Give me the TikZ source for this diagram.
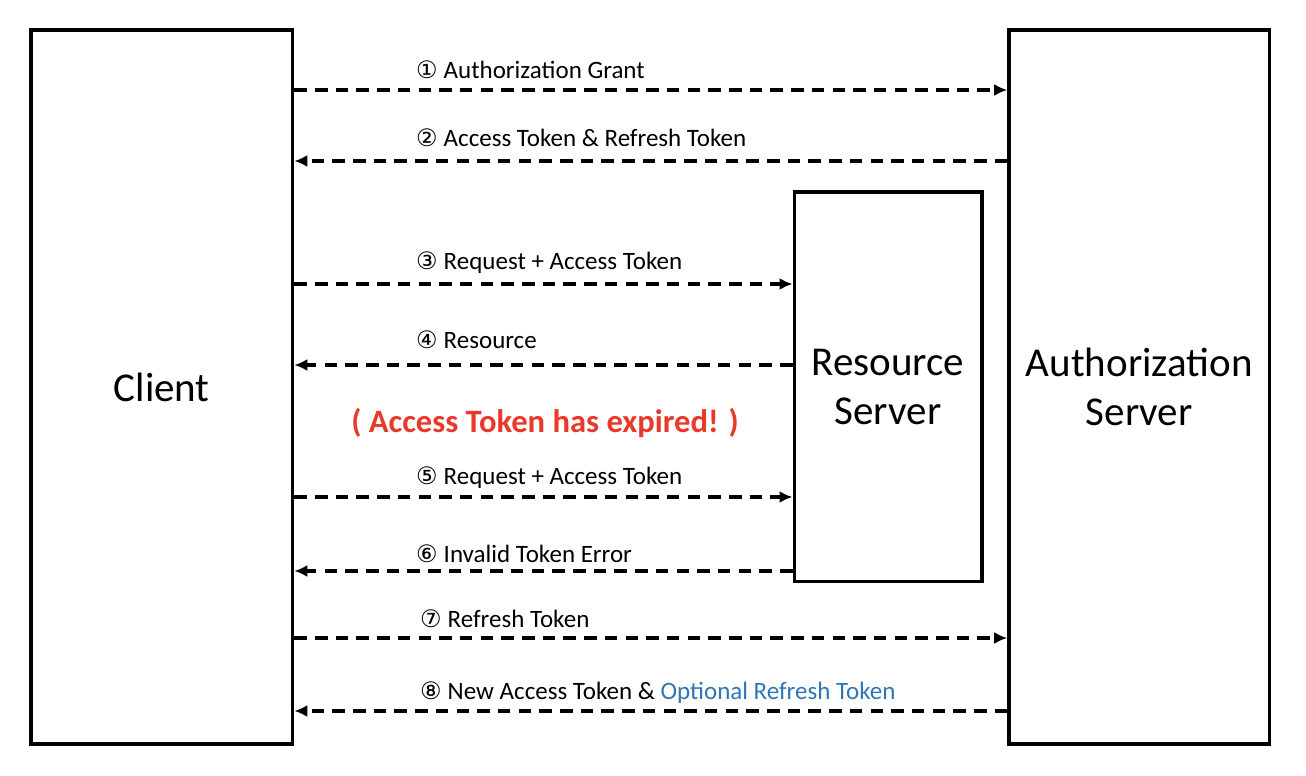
\documentclass[tikz,border=0pt]{standalone}
\usepackage{fontspec}
\setmainfont{Carlito}
\newfontfamily\circfont{DejaVu Sans}
\usetikzlibrary{arrows.meta}
\definecolor{expiredred}{RGB}{232,57,42}
\definecolor{optblue}{RGB}{46,117,182}
\newcommand{\stepno}[1]{{\circfont\fontsize{24}{28}\selectfont#1}\hspace{6pt}}
\tikzset{
  party/.style={draw,line width=3.6pt,inner sep=0pt,font=\fontsize{41}{49}\selectfont,align=center},
  msg/.style={line width=3.1pt,dash pattern=on 12.5pt off 8.2pt,-{Latex[length=13pt,width=12pt]}},
  msglabel/.style={anchor=base west,inner sep=0pt,font=\fontsize{25}{30}\selectfont}
}
\begin{document}
\begin{tikzpicture}[x=1pt,y=-1pt]
    \useasboundingbox (0,0) rectangle (1306,776);
    % the three parties
    \node[party,minimum width=261.5pt,minimum height=714pt] (client) at (161.75,387) {Client};
    \node[party,minimum width=260.5pt,minimum height=714pt] (auth) at (1139.25,387) {Authorization\\Server};
    \node[party,minimum width=187.4pt,minimum height=389.3pt] (res) at (888,386.65) {Resource\\Server};
    % messages
    \draw[msg](client.east|-0,90)--(auth.west|-0,90);
    \draw[msg](auth.west|-0,161)--(client.east|-0,161);
    \draw[msg](client.east|-0,284)--(res.west|-0,284);
    \draw[msg](res.west|-0,365)--(client.east|-0,365);
    \draw[msg](client.east|-0,497)--(res.west|-0,497);
    \draw[msg](res.west|-0,571)--(client.east|-0,571);
    \draw[msg](client.east|-0,638)--(auth.west|-0,638);
    \draw[msg](auth.west|-0,711)--(client.east|-0,711);
    % labels
    \node[msglabel] (l1) at (416,78) {\stepno{①}Authorization Grant};
    \node[msglabel] (l2) at (416,146) {\stepno{②}Access Token \& Refresh Token};
    \node[msglabel] (l3) at (416,269) {\stepno{③}Request + Access Token};
    \node[msglabel] (l4) at (416,348) {\stepno{④}Resource};
    \node[msglabel] (l5) at (416,484) {\stepno{⑤}Request + Access Token};
    \node[msglabel] (l6) at (416,562) {\stepno{⑥}Invalid Token Error};
    \node[msglabel] (l7) at (420,627) {\stepno{⑦}Refresh Token};
    \node[msglabel] (l8) at (420,699) {\stepno{⑧}New Access Token \& \textcolor{optblue}{Optional Refresh Token}};
    \node[anchor=base,inner sep=0pt,text=expiredred,font=\bfseries\fontsize{32.6}{38}\selectfont] (expired) at (545,432) {( Access Token has expired! )};
\end{tikzpicture}
\end{document}
